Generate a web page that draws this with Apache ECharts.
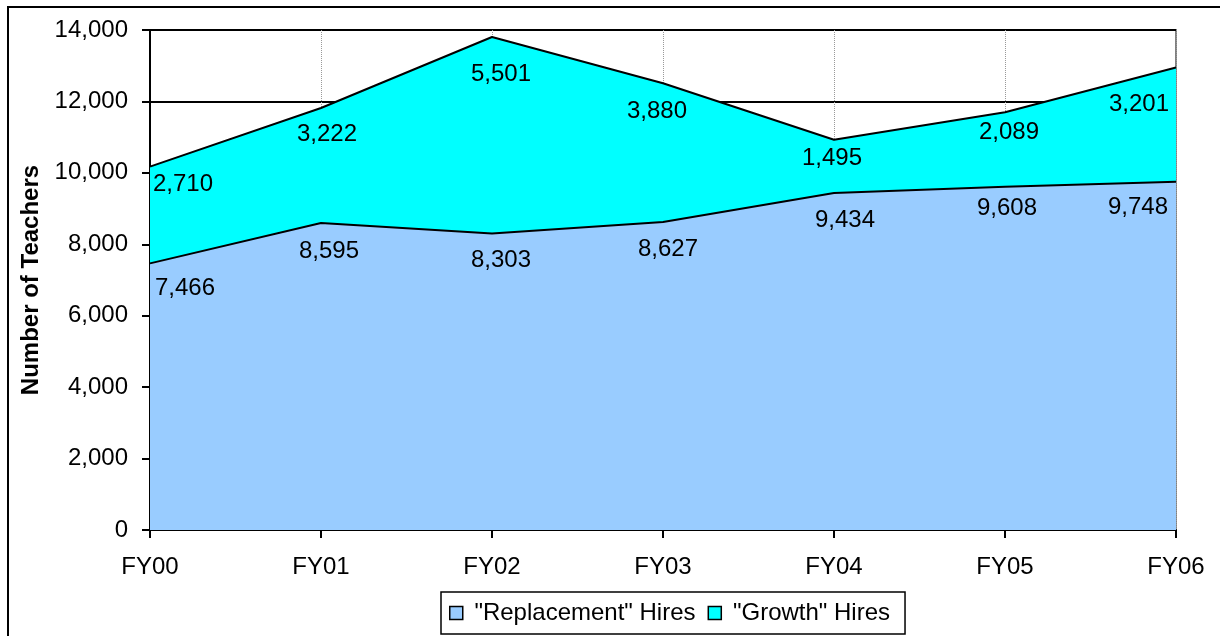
<!DOCTYPE html>
<html>
<head>
<meta charset="utf-8">
<script src="https://cdn.jsdelivr.net/npm/echarts@6/dist/echarts.min.js"></script>
<style>
html,body{margin:0;padding:0;background:#fff;}
#chart{width:1220px;height:636px;}
</style>
</head>
<body>
<div id="chart"></div>
<script>
const categories = ['FY00','FY01','FY02','FY03','FY04','FY05','FY06'];
const replacementHires = [7466, 8595, 8303, 8627, 9434, 9608, 9748];
const growthHires = [2710, 3222, 5501, 3880, 1495, 2089, 3201];
const yTicks = [0, 2000, 4000, 6000, 8000, 10000, 12000, 14000];

// label placement (style only)
const replLabelPos = [
  {align:'left', offset:[5,25]}, {offset:[8,28]}, {offset:[9,27]}, {offset:[5,27]},
  {offset:[11,27]}, {offset:[2,22]}, {align:'right', offset:[-8,26]}
];
const growthLabelPos = [
  {align:'left', offset:[3,18]}, {offset:[6,26]}, {offset:[9,37]}, {offset:[-6,28]},
  {offset:[-2,19]}, {offset:[4,20]}, {align:'right', offset:[-7,37]}
];

const FONT = 'Liberation Sans, Arial, sans-serif';
const FS = 24;
const fmt = v => v.toLocaleString('en-US');

function buildData(values, pos) {
  return values.map((v, i) => ({
    value: v,
    label: Object.assign({}, pos[i])
  }));
}

const chart = echarts.init(document.getElementById('chart'), null, {renderer: 'canvas'});
const option = {
  animation: false,
  backgroundColor: '#ffffff',
  graphic: [{
    type: 'rect',
    shape: {x: 8, y: 7, width: 1400, height: 800},
    style: {fill: 'none', stroke: '#000', lineWidth: 2},
    z: 100, silent: true
  }],
  grid: {
    left: 150, right: 44, top: 30, bottom: 106,
    show: true, borderColor: '#808080', borderWidth: 2, backgroundColor: 'transparent'
  },
  legend: {
    data: [
      {name: '"Replacement" Hires', itemStyle: {color: '#99CCFF', borderColor: '#000', borderWidth: 1.5, opacity: 1}},
      {name: '"Growth" Hires', itemStyle: {color: '#00FFFF', borderColor: '#000', borderWidth: 1.5, opacity: 1}}
    ],
    formatter: name => ' ' + name,
    left: 441, top: 592,
    padding: [9, 15, 9, 8],
    borderColor: '#000', borderWidth: 1.5,
    itemWidth: 13, itemHeight: 13, itemGap: 12,
    icon: 'rect',
    textStyle: {fontFamily: FONT, fontSize: FS, color: '#000'}
  },
  xAxis: {
    type: 'category',
    data: categories,
    boundaryGap: false,
    axisLine: {lineStyle: {color: '#000', width: 2}},
    axisTick: {show: true, length: 8, lineStyle: {color: '#000', width: 2}},
    axisLabel: {fontFamily: FONT, fontSize: FS, color: '#000', margin: 25},
    splitLine: {show: true, lineStyle: {color: '#999', type: 'dotted', width: 1}}
  },
  yAxis: {
    type: 'value',
    min: 0, max: 14000, interval: 2000,
    name: 'Number of Teachers',
    nameLocation: 'middle',
    nameGap: 105,
    nameTextStyle: {fontFamily: FONT, fontSize: FS, fontWeight: 'bold', color: '#000'},
    axisLine: {show: true, lineStyle: {color: '#000', width: 2}},
    axisTick: {show: true, length: 8, lineStyle: {color: '#000', width: 2}},
    axisLabel: {fontFamily: FONT, fontSize: FS, color: '#000', margin: 22,
      formatter: v => yTicks.includes(v) ? fmt(v) : ''},
    splitLine: {show: true, lineStyle: {color: '#000', width: 2}}
  },
  series: [
    {
      name: '"Replacement" Hires',
      type: 'line',
      stack: 'total',
      data: buildData(replacementHires, replLabelPos),
      symbol: 'circle', symbolSize: 1,
      itemStyle: {color: 'rgba(0,0,0,0)', borderWidth: 0},
      lineStyle: {color: '#000', width: 2},
      areaStyle: {color: '#99CCFF', opacity: 1},
      label: {show: true, position: 'inside', fontFamily: FONT, fontSize: FS, color: '#000',
        formatter: p => fmt(p.value)},
      emphasis: {disabled: true},
      z: 2
    },
    {
      name: '"Growth" Hires',
      type: 'line',
      stack: 'total',
      data: buildData(growthHires, growthLabelPos),
      symbol: 'circle', symbolSize: 1,
      itemStyle: {color: 'rgba(0,0,0,0)', borderWidth: 0},
      lineStyle: {color: '#000', width: 2},
      areaStyle: {color: '#00FFFF', opacity: 1},
      label: {show: true, position: 'inside', fontFamily: FONT, fontSize: FS, color: '#000',
        formatter: p => fmt(p.value)},
      emphasis: {disabled: true},
      z: 1
    }
  ]
};
chart.setOption(option);
</script>
</body>
</html>
